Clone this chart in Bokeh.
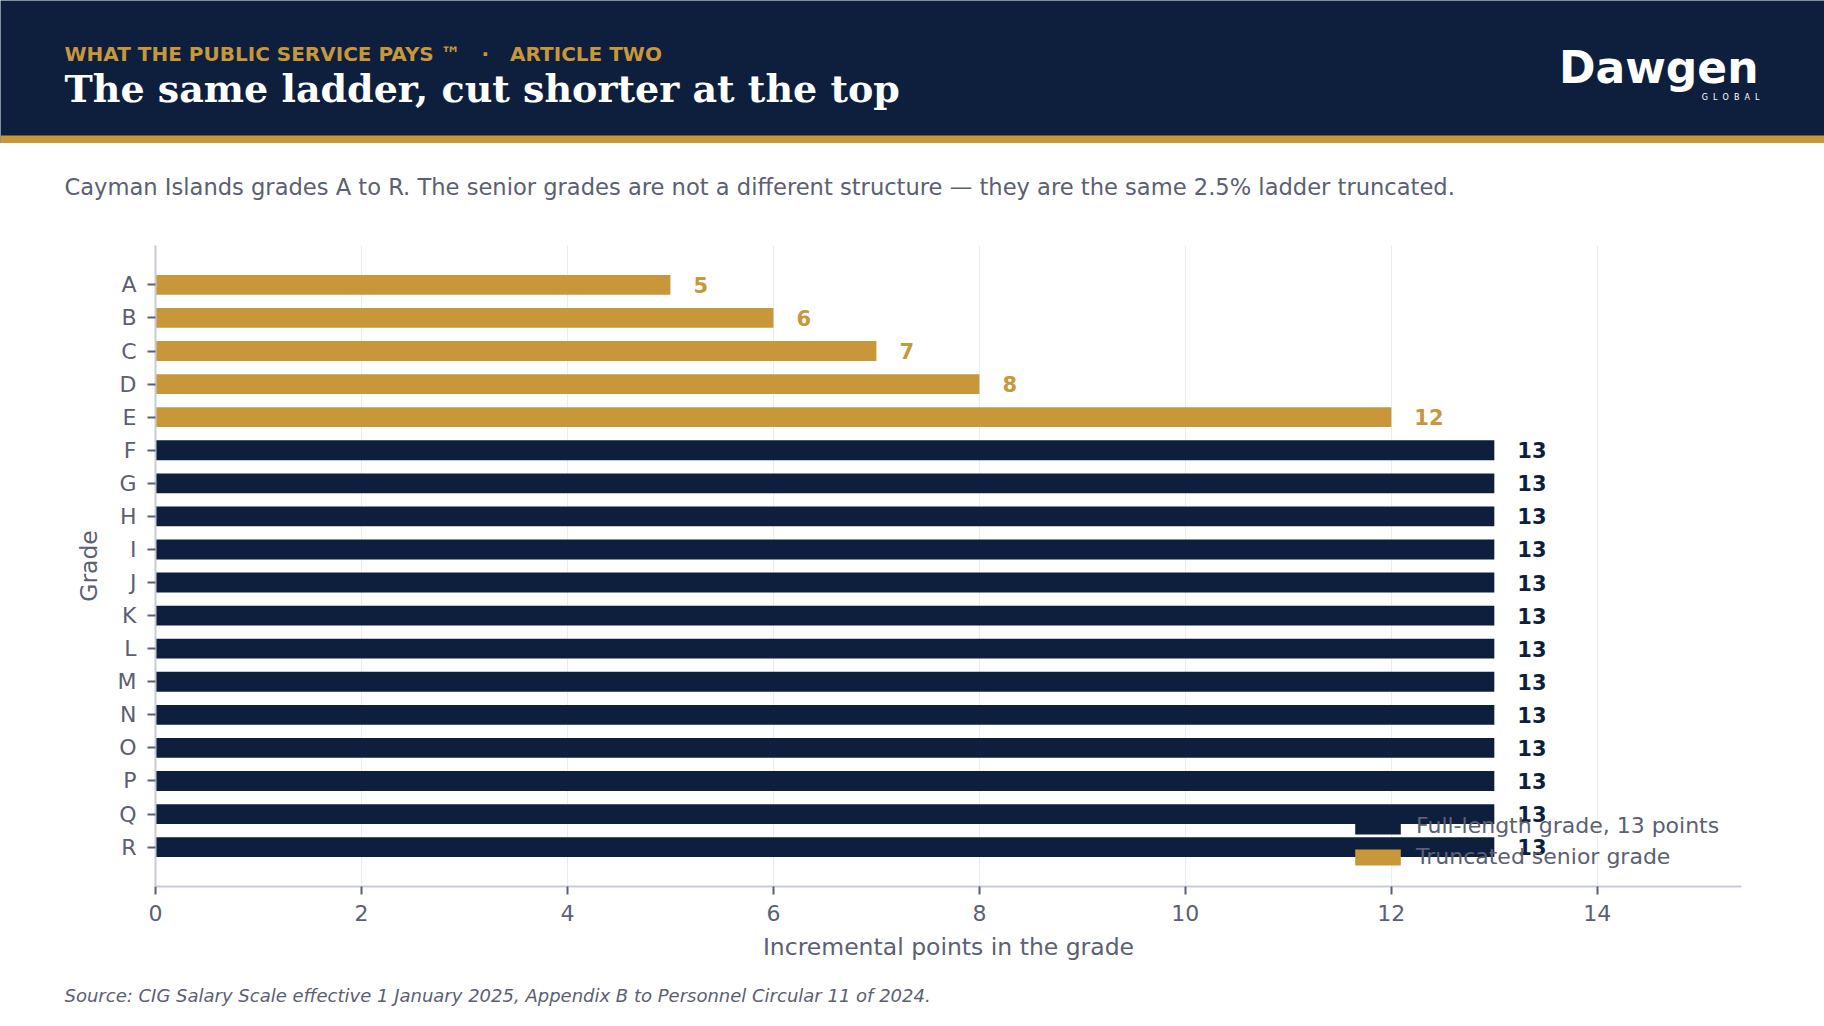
from bokeh.plotting import figure
from bokeh.models import (ColumnDataSource, FactorRange, Range1d, Label, Legend,
                          LegendItem, FixedTicker)
from bokeh.layouts import column, row
from bokeh.core.properties import value
from bokeh.embed import file_html
from bokeh.resources import INLINE

NAVY = "#0d1f3d"
GOLD = "#c8973a"
GREY = "#5b6072"

grades = ["A", "B", "C", "D", "E", "F", "G", "H", "I",
          "J", "K", "L", "M", "N", "O", "P", "Q", "R"]
points = [5, 6, 7, 8, 12, 13, 13, 13, 13,
          13, 13, 13, 13, 13, 13, 13, 13, 13]
truncated = [True, True, True, True, True, False, False, False, False,
             False, False, False, False, False, False, False, False, False]
x_ticks = [0, 2, 4, 6, 8, 10, 12, 14]

SP = "\u00a0\u00a0\u00a0"
kicker = "WHAT THE PUBLIC SERVICE PAYS \u2122" + SP + "\u00b7" + SP + "ARTICLE TWO"
title = "The same ladder, cut shorter at the top"
subtitle = ("Cayman Islands grades A to R. The senior grades are not a different "
            "structure \u2014 they are the same 2.5% ladder truncated.")
source_note = ("Source: CIG Salary Scale effective 1 January 2025, Appendix B to "
               "Personnel Circular 11 of 2024.")

W = 1824


def strip(height, bg):
    # plain full-width canvas, coordinates in pixels from the top-left
    f = figure(width=W, height=height, x_range=Range1d(0, W), y_range=Range1d(height, 0),
               toolbar_location=None, output_backend="svg", min_border=0,
               background_fill_color=bg, border_fill_color=bg, outline_line_color=None)
    f.axis.visible = False
    f.grid.visible = False
    return f


# ---- header band
head = strip(143, NAVY)
head.quad(left=0, right=W, top=135, bottom=143, fill_color=GOLD, line_color=None)
head.add_layout(Label(x=64, y=53.5, text=kicker, text_font="DejaVu Sans", text_font_style="bold",
                      text_font_size="20px", text_color=GOLD, text_baseline="middle"))
head.add_layout(Label(x=64, y=88, text=title, text_font="DejaVu Serif", text_font_style="bold",
                      text_font_size="38px", text_color="white", text_baseline="middle"))
head.add_layout(Label(x=1758, y=67, text="Dawgen", text_font="DejaVu Sans", text_font_style="bold",
                      text_font_size="44px", text_color="white", text_align="right",
                      text_baseline="middle"))
head.add_layout(Label(x=1759, y=97, text="\u00a0\u00a0".join("GLOBAL"), text_font="DejaVu Sans",
                      text_font_size="8px", text_color="white", text_align="right",
                      text_baseline="middle"))

# ---- subtitle
sub = strip(82, "white")
sub.add_layout(Label(x=64, y=43, text=subtitle, text_font="DejaVu Sans", text_font_size="22.6px",
                     text_color=GREY, text_baseline="middle"))

# ---- chart
full_src = ColumnDataSource(dict(
    grade=[g for g, t in zip(grades, truncated) if not t],
    pts=[v for v, t in zip(points, truncated) if not t]))
trunc_src = ColumnDataSource(dict(
    grade=[g for g, t in zip(grades, truncated) if t],
    pts=[v for v, t in zip(points, truncated) if t]))
lab_src = ColumnDataSource(dict(
    grade=grades, pts=points, txt=[str(v) for v in points],
    col=[GOLD if t else NAVY for t in truncated]))

p = figure(width=W, height=745, toolbar_location=None, output_backend="svg",
           y_range=FactorRange(factors=grades[::-1], range_padding=0.69,
                               range_padding_units="absolute"),
           x_range=Range1d(0, 15.4),
           min_border_left=155, min_border_right=83, min_border_top=20, min_border_bottom=84,
           outline_line_color=None, background_fill_color="white")

r_full = p.hbar(y="grade", right="pts", left=0, height=0.6, source=full_src,
                fill_color=NAVY, line_color=None)
r_trunc = p.hbar(y="grade", right="pts", left=0, height=0.6, source=trunc_src,
                 fill_color=GOLD, line_color=None)
p.text(x="pts", y="grade", text="txt", source=lab_src, x_offset=23,
       text_color="col", text_font=value("DejaVu Sans"), text_font_style="bold",
       text_font_size="21px", text_align="left", text_baseline="middle")

p.ygrid.visible = False
p.xgrid.grid_line_color = "#ebecf1"
p.xgrid.grid_line_width = 1
p.xaxis.ticker = FixedTicker(ticks=x_ticks)

for ax in (p.xaxis[0], p.yaxis[0]):
    ax.axis_line_color = "#c9cbd6"
    ax.axis_line_width = 2
    ax.major_tick_line_color = GREY
    ax.major_tick_line_width = 2
    ax.major_tick_out = 8
    ax.major_tick_in = 0
    ax.minor_tick_line_color = None
    ax.major_label_text_color = GREY
    ax.major_label_text_font = "DejaVu Sans"
    ax.major_label_text_font_size = "22px"
    ax.axis_label_text_color = GREY
    ax.axis_label_text_font = "DejaVu Sans"
    ax.axis_label_text_font_size = "23.5px"
    ax.axis_label_text_font_style = "normal"

p.xaxis.major_label_standoff = 10
p.yaxis.major_label_standoff = 11
p.xaxis.axis_label_standoff = 9
p.yaxis.axis_label_standoff = 12
p.xaxis.axis_label = "Incremental points in the grade"
p.yaxis.axis_label = "Grade"

legend = Legend(items=[LegendItem(label="Full-length grade, 13 points", renderers=[r_full]),
                       LegendItem(label="Truncated senior grade", renderers=[r_trunc])],
                location=(1194, 17), background_fill_alpha=0, border_line_color=None,
                label_text_font="DejaVu Sans", label_text_font_size="22px",
                label_text_color=GREY, glyph_width=57, glyph_height=20,
                label_standoff=10, spacing=6, padding=8, margin=0)
p.add_layout(legend)

# ---- footnote
foot = strip(56, "white")
foot.add_layout(Label(x=64, y=25, text=source_note, text_font="DejaVu Sans",
                      text_font_style="italic", text_font_size="18px", text_color=GREY,
                      text_baseline="middle"))

layout = column(row(head), row(sub), p, row(foot), spacing=0)
open("out.html", "w").write(file_html(layout, INLINE))
